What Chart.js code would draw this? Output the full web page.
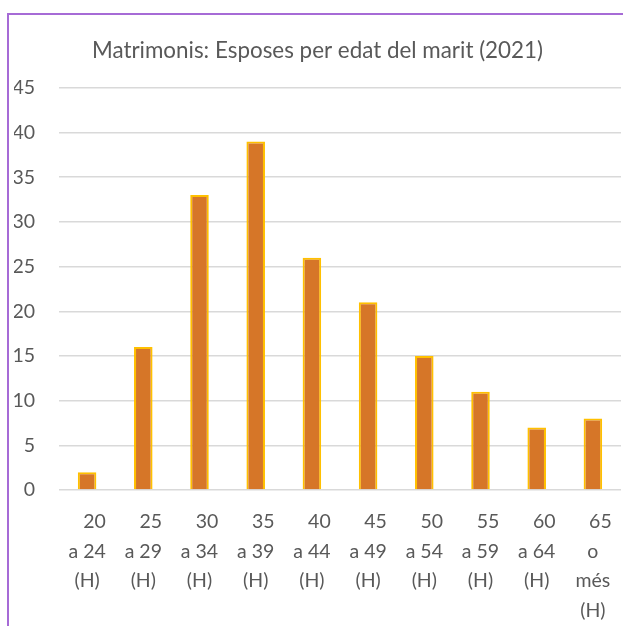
<!DOCTYPE html>
<html>
<head>
<meta charset="utf-8">
<script src="https://cdn.jsdelivr.net/npm/chart.js@4.4.1/dist/chart.umd.min.js"></script>
<style>
  html, body { margin: 0; padding: 0; background: #fff; overflow: hidden; }
  #wrap { position: relative; width: 623px; height: 626px; }
  #frame {
    position: absolute; left: 7px; top: 13px; right: -10px; bottom: -10px;
    border-left: 2px solid #A66BD6; border-top: 2px solid #A66BD6;
    pointer-events: none;
  }
  canvas { position: absolute; left: 0; top: 0; }
</style>
</head>
<body>
<div id="wrap">
  <canvas id="chart" width="623" height="626"></canvas>
  <div id="frame"></div>
</div>
<script>
// age groups of the husband (wrapped the way the original shows them)
const categories = [
  ['   20', 'a 24', '(H)'],
  ['   25', 'a 29', '(H)'],
  ['   30', 'a 34', '(H)'],
  ['   35', 'a 39', '(H)'],
  ['   40', 'a 44', '(H)'],
  ['   45', 'a 49', '(H)'],
  ['   50', 'a 54', '(H)'],
  ['   55', 'a 59', '(H)'],
  ['   60', 'a 64', '(H)'],
  ['   65', 'o', 'més', '(H)']
];
const esposes = [2, 16, 33, 39, 26, 21, 15, 11, 7, 8];
const yTicks = [0, 5, 10, 15, 20, 25, 30, 35, 40, 45];

const textColor = '#595959';
const fontFamily = 'Lato, "Open Sans", sans-serif';

const ctx = document.getElementById('chart').getContext('2d');
new Chart(ctx, {
  type: 'bar',
  data: {
    labels: categories,
    datasets: [{
      label: 'Esposes',
      data: esposes,
      backgroundColor: '#D67628',
      borderColor: '#FFC000',
      borderWidth: 2,
      barPercentage: 0.33,
      categoryPercentage: 1
    }]
  },
  options: {
    responsive: false,
    animation: false,
    layout: { padding: { left: 14, right: 2, top: 14, bottom: 0 } },
    plugins: {
      legend: { display: false },
      tooltip: { enabled: false },
      title: {
        display: true,
        text: 'Matrimonis: Esposes per edat del marit (2021)',
        color: textColor,
        font: { family: fontFamily, size: 22.4, weight: 'normal', lineHeight: 1.2 },
        padding: { top: 23, bottom: 24 }
      }
    },
    scales: {
      x: {
        grid: { display: false, drawTicks: false },
        border: { display: false },
        ticks: {
          color: textColor,
          maxRotation: 0,
          autoSkip: false,
          padding: 17,
          font: { family: fontFamily, size: 19.5, lineHeight: '29.5px' }
        },
        afterFit: (scale) => {
          scale.height = 136;
          scale.paddingLeft = 0;
          scale.paddingRight = 0;
        }
      },
      y: {
        min: 0,
        max: 45,
        afterBuildTicks: (scale) => { scale.ticks = yTicks.map(v => ({ value: v })); },
        grid: { color: '#D9D9D9', lineWidth: 1.5, drawTicks: false },
        border: { display: false },
        ticks: {
          color: textColor,
          padding: 24,
          font: { family: fontFamily, size: 19.5 }
        },
        afterFit: (scale) => { scale.width = 45; }
      }
    }
  }
});
</script>
</body>
</html>
